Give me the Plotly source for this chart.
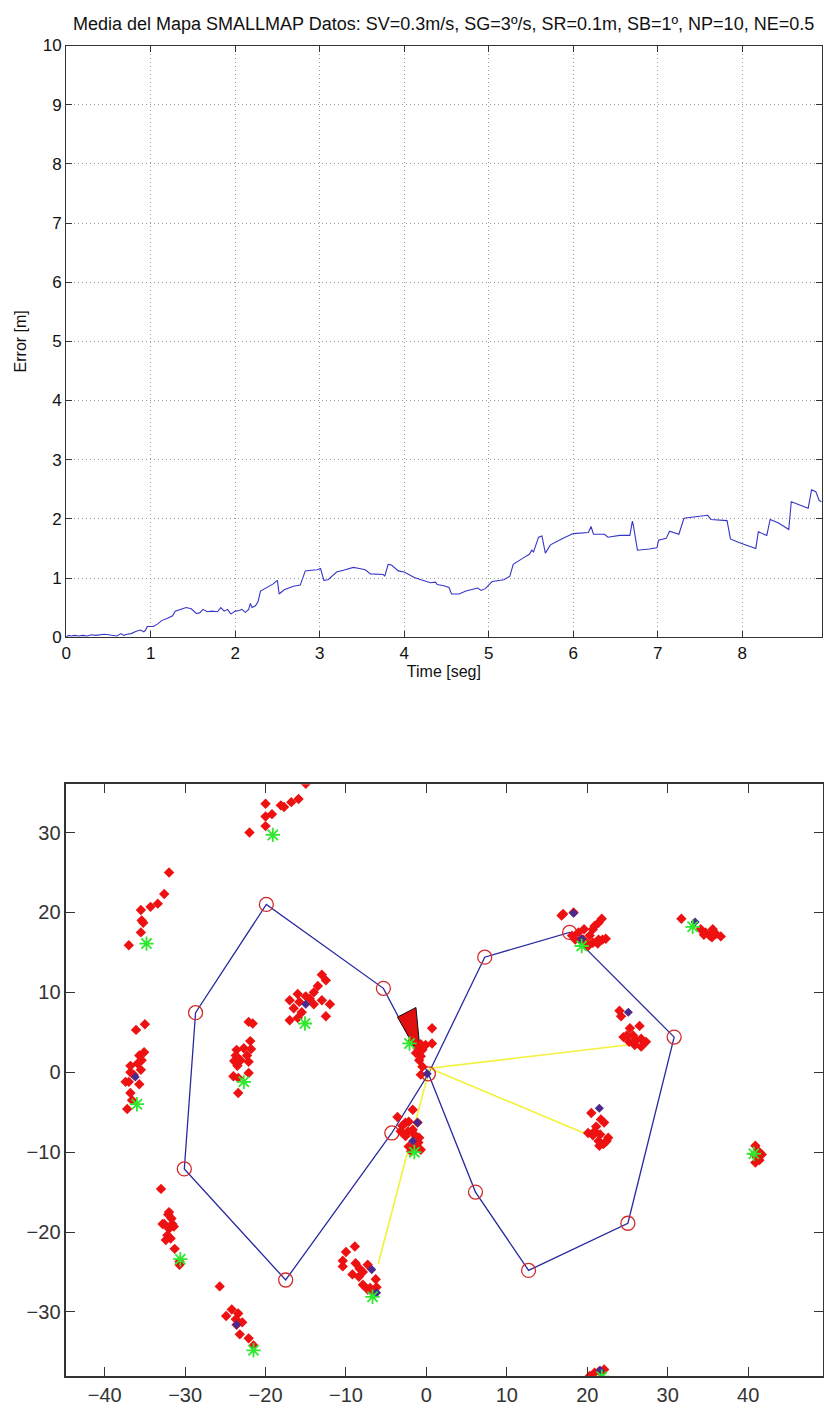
import plotly.graph_objects as go

# ---- Mean map error over time ----
time_s = [0.00, 0.03, 0.06, 0.10, 0.15, 0.20, 0.25, 0.30, 0.35, 0.40, 0.45, 0.50, 0.55, 0.60,
          0.65, 0.68, 0.72, 0.77, 0.83, 0.88, 0.92, 0.94, 0.96, 1.03, 1.08, 1.13, 1.20, 1.26,
          1.29, 1.36, 1.42, 1.48, 1.54, 1.58, 1.62, 1.67, 1.72, 1.79, 1.83, 1.87, 1.91, 1.95,
          2.00, 2.05, 2.08, 2.12, 2.16, 2.18, 2.20, 2.24, 2.27, 2.30, 2.38, 2.45, 2.50, 2.52,
          2.58, 2.65, 2.69, 2.77, 2.83, 2.90, 2.97, 3.01, 3.05, 3.10, 3.20, 3.28, 3.36, 3.40,
          3.47, 3.54, 3.60, 3.68, 3.75, 3.77, 3.81, 3.85, 3.93, 4.00, 4.12, 4.20, 4.31, 4.37,
          4.39, 4.47, 4.53, 4.56, 4.65, 4.73, 4.80, 4.87, 4.91, 4.96, 5.04, 5.12, 5.18, 5.25,
          5.29, 5.41, 5.48, 5.51, 5.53, 5.59, 5.63, 5.67, 5.73, 5.88, 6.00, 6.18, 6.21, 6.24,
          6.37, 6.41, 6.55, 6.67, 6.70, 6.71, 6.76, 6.90, 6.99, 7.01, 7.10, 7.14, 7.25, 7.31,
          7.43, 7.59, 7.63, 7.82, 7.86, 7.96, 8.16, 8.19, 8.29, 8.33, 8.43, 8.55, 8.58, 8.71,
          8.78, 8.82, 8.87, 8.91, 8.94]
error_m = [0.00, 0.03, 0.02, 0.03, 0.02, 0.03, 0.02, 0.04, 0.03, 0.04, 0.05, 0.04, 0.03, 0.02,
           0.06, 0.03, 0.05, 0.06, 0.10, 0.12, 0.09, 0.12, 0.18, 0.18, 0.22, 0.28, 0.32, 0.36,
           0.44, 0.47, 0.50, 0.48, 0.40, 0.41, 0.47, 0.43, 0.44, 0.43, 0.50, 0.44, 0.47, 0.39,
           0.44, 0.45, 0.47, 0.42, 0.47, 0.57, 0.50, 0.53, 0.60, 0.78, 0.84, 0.90, 0.96, 0.73,
           0.80, 0.83, 0.86, 0.88, 1.12, 1.13, 1.14, 1.16, 0.96, 0.97, 1.10, 1.13, 1.16, 1.18,
           1.16, 1.14, 1.07, 1.06, 1.06, 1.03, 1.23, 1.22, 1.12, 1.10, 1.01, 0.97, 0.92, 0.93,
           0.89, 0.87, 0.84, 0.73, 0.73, 0.78, 0.80, 0.83, 0.79, 0.82, 0.94, 0.96, 0.97, 1.03,
           1.23, 1.34, 1.40, 1.47, 1.44, 1.69, 1.71, 1.42, 1.56, 1.67, 1.75, 1.77, 1.87, 1.74,
           1.74, 1.69, 1.72, 1.72, 1.96, 1.90, 1.47, 1.49, 1.51, 1.64, 1.67, 1.79, 1.74, 2.01,
           2.03, 2.06, 1.99, 1.97, 1.66, 1.60, 1.50, 1.78, 1.72, 1.99, 1.93, 1.82, 2.29, 2.22,
           2.18, 2.49, 2.46, 2.31, 2.29]

# ---- Map: robot path, waypoints, sensor rays, landmarks ----
path_x = [0.25, 7.25, 17.8, 30.8, 25.05, 12.7, 6.1, 0.25, -4.3, -17.5, -30.1, -28.7, -19.9, -5.35, 0.25]
path_y = [-0.2, 14.4, 17.5, 4.4, -18.9, -24.8, -15.0, -0.2, -7.6, -26.0, -12.1, 7.45, 21.0, 10.5, -0.2]

waypoint_x = [7.25, 17.8, 30.8, 25.05, 12.7, 6.1, 0.25, -4.3, -17.5, -30.1, -28.7, -19.9, -5.35]
waypoint_y = [14.4, 17.5, 4.4, -18.9, -24.8, -15.0, -0.2, -7.6, -26.0, -12.1, 7.45, 21.0, 10.5]

robot_x = [-3.6, -1.3, -0.7, -3.6]
robot_y = [6.9, 8.1, 1.8, 6.9]

ray_origin = (0.4, 0.5)
ray_end_x = [25.0, 20.0, -6.0]
ray_end_y = [3.4, -7.8, -24.0]

particle_x = [
    -22.0, -20.0, -20.0, -19.2, -20.0, -18.1, -17.7, -16.8, -15.9, -15.0,
    -37.0, -35.5, -35.4, -35.5, -34.3, -33.4, -32.6, -32.0, -35.2,
    -36.1, -35.0, -35.1, -35.7, -35.4, -35.9, -36.8, -36.8, -35.5, -36.4, -37.0, -37.4, -35.7, -36.8, -36.6, -37.2,
    -22.1, -21.6, -21.9, -22.7, -23.6, -21.8, -22.3, -23.7, -23.1, -22.1, -23.9, -23.5, -24.0, -23.4, -22.1, -23.4,
    -13.0, -12.5, -14.0, -15.0, -16.0, -17.0, -16.5, -15.5, -14.0, -13.0, -12.0, -12.5, -16.0, -17.0, -14.5, -15.8, -13.5,
    -33.0, -32.0, -32.1, -31.7, -32.6, -31.6, -32.0, -31.4, -32.2, -31.8, -32.8, -31.3, -30.7, -30.7, -32.4,
    -25.7, -24.2, -24.9, -23.4, -23.7, -22.9, -23.6, -23.2, -22.1, -21.5,
    -10.0, -8.9, -10.4, -10.4, -8.8, -9.2, -8.3, -7.9, -8.4, -7.3, -7.9, -7.3, -6.6, -6.2, -6.3, -7.0,
    -1.7, -2.6, -3.0, -2.2, -3.2, -2.3, -1.7, -2.6, -1.5, -0.9, -1.0, -2.2, -1.4, -0.7, -1.9, -3.6, -1.1,
    0.7, 0.7, -0.1, -0.7, -0.5, -1.1, -1.3, -0.7, -0.9, -0.5, -0.7, -1.7,
    16.8, 18.3, 17.0, 18.9, 19.6, 19.5, 20.3, 20.9, 21.4, 20.1, 20.7, 21.4, 21.8, 20.7, 21.9, 22.3, 21.3, 20.1, 19.4, 18.1, 18.5,
    31.7, 34.1, 34.7, 35.6, 35.2, 36.0, 36.6, 35.5, 34.5,
    24.0, 24.2, 26.5, 25.3, 24.9, 24.5, 25.7, 26.7, 27.3, 25.9, 26.7, 25.2, 26.1,
    20.5, 21.7, 22.1, 21.1, 20.9, 20.1, 21.6, 22.6, 21.4, 22.0, 20.7, 22.4, 21.5,
    40.9, 41.3, 41.7, 41.1, 40.9, 41.4, 40.8,
    20.3, 20.9, 21.5, 22.1, 21.8,
]
particle_y = [
    30.0, 33.6, 32.0, 32.3, 30.8, 33.4, 33.2, 33.8, 34.2, 36.1,
    15.9, 17.5, 19.0, 20.3, 20.7, 21.1, 22.3, 25.0, 18.7,
    5.3, 6.0, 2.5, 2.1, 1.5, 1.1, 0.8, 0.0, 0.3, -0.3, -1.2, -1.2, -1.5, -2.6, -3.5, -4.6,
    6.3, 6.1, 3.9, 3.0, 2.8, 2.9, 2.1, 2.1, 1.5, 1.3, 1.4, 0.8, -0.5, -0.7, -0.1, -2.6,
    12.2, 11.5, 10.0, 9.5, 9.8, 9.0, 8.0, 7.5, 8.5, 9.0, 8.5, 7.0, 6.8, 6.5, 9.2, 8.8, 10.8,
    -14.6, -17.5, -17.8, -18.3, -19.0, -19.0, -19.6, -19.3, -20.4, -20.8, -19.0, -22.1, -23.7, -24.1, -21.0,
    -26.8, -29.7, -30.5, -30.2, -30.9, -31.3, -31.6, -32.8, -33.3, -34.2,
    -22.5, -21.8, -23.6, -24.3, -23.9, -25.3, -24.6, -25.0, -25.6, -24.1, -26.6, -27.2, -27.4, -26.9, -25.9, -27.0,
    -4.7, -6.3, -6.7, -6.2, -7.4, -7.4, -7.2, -8.0, -7.8, -8.2, -8.8, -9.3, -9.5, -9.7, -9.9, -5.6, -6.3,
    5.5, 3.6, 3.4, 3.5, 2.8, 3.0, 2.4, 2.0, 1.5, 0.7, -0.3, 4.0,
    19.6, 20.0, 19.8, 17.5, 17.9, 16.6, 17.1, 18.3, 18.7, 15.8, 16.2, 16.6, 19.2, 17.9, 16.6, 16.7, 16.1, 16.0, 16.6, 17.1, 16.6,
    19.2, 17.9, 17.5, 17.9, 17.1, 17.3, 17.0, 16.9, 17.2,
    7.7, 7.0, 5.8, 5.5, 4.6, 4.4, 4.6, 4.2, 3.8, 3.4, 3.2, 3.8, 4.0,
    -5.1, -5.9, -6.3, -6.8, -7.4, -7.6, -7.8, -8.2, -8.6, -9.0, -7.9, -8.6, -9.2,
    -9.2, -9.9, -10.3, -10.7, -11.3, -11.0, -10.3,
    -38.0, -37.6, -37.4, -37.2, -37.6,
]

estimate_x = [-36.2, -15.0, -1.1, -1.7, -6.8, -6.2, -23.6, 18.3, 19.3, 33.4, 25.1, 21.5, 21.6, 0.1]
estimate_y = [-0.6, 8.5, -6.3, -8.6, -24.7, -27.6, -31.6, 19.9, 16.7, 18.8, 7.5, -4.5, -37.3, -0.2]

landmark_x = [-19.1, -34.8, -36.0, -22.7, -15.1, -30.6, -21.5, -6.7, -1.5, 19.3, 33.1, 40.7, 21.8, -2.1]
landmark_y = [29.7, 16.1, -4.0, -1.2, 6.1, -23.4, -34.8, -28.1, -10.0, 15.8, 18.2, -10.2, -38.1, 3.6]

FONT = "Liberation Sans, Arial, sans-serif"
W, H = 824, 1418

fig = go.Figure()

fig.add_trace(go.Scatter(x=time_s, y=error_m, mode="lines",
                         line=dict(color="#3535c8", width=1.1),
                         xaxis="x", yaxis="y", showlegend=False))

# map traces
fig.add_trace(go.Scatter(x=path_x, y=path_y, mode="lines",
                         line=dict(color="#2a2aa0", width=1.3),
                         xaxis="x2", yaxis="y2", showlegend=False))
ray_x, ray_y = [], []
for ex, ey in zip(ray_end_x, ray_end_y):
    ray_x += [ray_origin[0], ex, None]
    ray_y += [ray_origin[1], ey, None]
fig.add_trace(go.Scatter(x=ray_x, y=ray_y, mode="lines",
                         line=dict(color="#f2f23a", width=1.6),
                         xaxis="x2", yaxis="y2", showlegend=False))
fig.add_trace(go.Scatter(x=waypoint_x, y=waypoint_y, mode="markers",
                         marker=dict(symbol="circle-open", size=14, color="#d02a2a",
                                     line=dict(width=1.3)),
                         xaxis="x2", yaxis="y2", showlegend=False))
fig.add_trace(go.Scatter(x=robot_x, y=robot_y, mode="lines", fill="toself",
                         fillcolor="#e01010", line=dict(color="#111111", width=1.0),
                         xaxis="x2", yaxis="y2", showlegend=False))
fig.add_trace(go.Scatter(x=particle_x, y=particle_y, mode="markers",
                         marker=dict(symbol="diamond", size=8, color="#ee1111",
                                     line=dict(width=0)),
                         xaxis="x2", yaxis="y2", showlegend=False))
fig.add_trace(go.Scatter(x=estimate_x, y=estimate_y, mode="markers",
                         marker=dict(symbol="diamond", size=7, color="#4a2a8c",
                                     line=dict(width=0)),
                         xaxis="x2", yaxis="y2", showlegend=False))
fig.add_trace(go.Scatter(x=landmark_x, y=landmark_y, mode="markers",
                         marker=dict(symbol="asterisk-open", size=12, color="#2ee82e",
                                     line=dict(width=1.8, color="#2ee82e")),
                         xaxis="x2", yaxis="y2", showlegend=False))

# pixel boxes of the two axes
top_box = dict(x0=61.5, x1=821.7, y0=37.0, y1=636.7)
map_box = dict(x0=61.7, x1=822.7, y0=785.7, y1=1385.7)


def xdom(b):
    return [b["x0"] / W, b["x1"] / W]


def ydom(b):
    return [1 - b["y1"] / H, 1 - b["y0"] / H]


axis_common = dict(showline=True, linecolor="#333333", linewidth=1, mirror="ticks",
                   ticks="inside", ticklen=6, tickcolor="#333333", zeroline=False)
grid_style = dict(showgrid=True, gridcolor="#9a9a9a", griddash="1px,3px", gridwidth=1)

fig.update_layout(
    width=W, height=H,
    margin=dict(l=0, r=0, t=0, b=0),
    paper_bgcolor="white", plot_bgcolor="white",
    font=dict(family=FONT, color="#111111"),
    xaxis=dict(domain=xdom(top_box), anchor="y", range=[0, 8.94],
               tickvals=list(range(0, 9)), tickfont=dict(size=17),
               title=dict(text="Time [seg]", font=dict(size=16), standoff=2),
               **grid_style, **axis_common),
    yaxis=dict(domain=ydom(top_box), anchor="x", range=[0, 10],
               tickvals=list(range(0, 11)), tickfont=dict(size=17),
               title=dict(text="Error [m]", font=dict(size=16), standoff=12),
               **grid_style, **axis_common),
    xaxis2=dict(domain=xdom(map_box), anchor="y2", range=[-44.77, 49.27],
                tickvals=[-40, -30, -20, -10, 0, 10, 20, 30, 40], showgrid=False,
                tickfont=dict(size=20, color="#333333"),
                **{**axis_common, "linewidth": 1.6, "ticklen": 9}),
    yaxis2=dict(domain=ydom(map_box), anchor="x2", range=[-38.03, 36.05],
                tickvals=[-30, -20, -10, 0, 10, 20, 30], showgrid=False,
                tickfont=dict(size=20, color="#333333"),
                **{**axis_common, "linewidth": 1.6, "ticklen": 9}),
    annotations=[dict(
        text="Media del Mapa SMALLMAP Datos: SV=0.3m/s, SG=3º/s, SR=0.1m, SB=1º, NP=10, NE=0.5",
        x=(top_box["x0"] + top_box["x1"]) / 2 / W, y=1 - 15 / H,
        xref="paper", yref="paper", xanchor="center", yanchor="middle",
        showarrow=False, font=dict(size=18, family=FONT, color="#111111"))],
)

fig.write_html("out.html")
